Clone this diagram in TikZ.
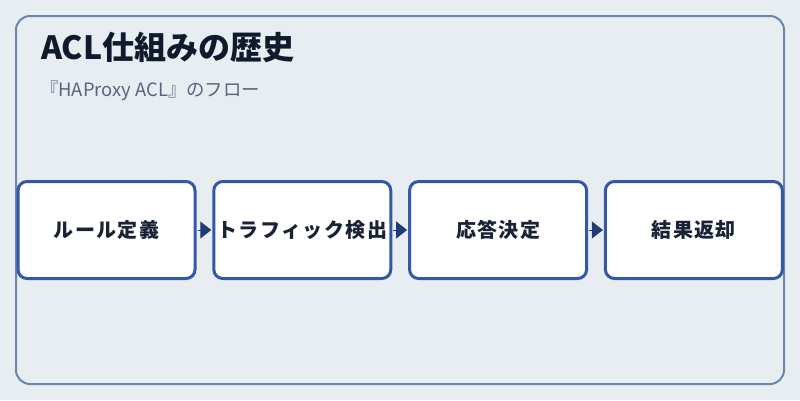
\documentclass[tikz,border=0pt]{standalone}
\usepackage{fontspec}
\setmainfont{Noto Sans CJK JP}
\newfontfamily\stepfont{Noto Sans CJK JP}[LetterSpace=7]
\usepackage{xcolor}
\usepackage{tikz}
\usetikzlibrary{positioning}
\usetikzlibrary{arrows.meta}
\definecolor{bgcol}{HTML}{E8EDF2}
\definecolor{framecol}{HTML}{6B84B0}
\definecolor{boxcol}{HTML}{3558A6}
\definecolor{flowcol}{HTML}{1F3C78}
\definecolor{titlecol}{HTML}{0F1B2D}
\definecolor{subcol}{HTML}{56667C}
\definecolor{labelcol}{HTML}{1A2236}

\begin{document}
\begin{tikzpicture}[x=1pt, y=-1pt,
  stepbox/.style={draw=boxcol, fill=white, line width=3pt, rounded corners=9pt,
    minimum width=177pt, minimum height=97pt, inner sep=0pt,
    text=labelcol, font=\stepfont\bfseries\fontsize{20}{24}\selectfont},
  flow/.style={draw=flowcol, line width=1pt, -{Triangle[length=11pt, width=17pt]},
    shorten <=1pt, shorten >=1pt}]

\useasboundingbox (0,0) rectangle (800,400);
\fill[bgcol] (0,0) rectangle (800,400);
\draw[framecol, line width=2pt, rounded corners=14pt] (16,16) rectangle (784,384);

\node at (41,59) [anchor=base west, inner sep=0pt, text=titlecol, font=\bfseries\fontsize{32}{38}\selectfont] (title) {ACL仕組みの歴史};
\node at (40,96) [anchor=base west, inner sep=0pt, text=subcol, font=\fontsize{18.4}{22}\selectfont] (subtitle) {『HAProxy ACL』のフロー};

\node at (106.5,230) [stepbox] (rule) {ルール定義};
\node [stepbox, right=15.8pt of rule] (detect) {トラフィック検出};
\node [stepbox, right=15.8pt of detect] (answer) {応答決定};
\node [stepbox, right=15.8pt of answer] (result) {結果返却};

\draw[flow] (rule) -- (detect);
\draw[flow] (detect) -- (answer);
\draw[flow] (answer) -- (result);

\end{tikzpicture}
\end{document}
